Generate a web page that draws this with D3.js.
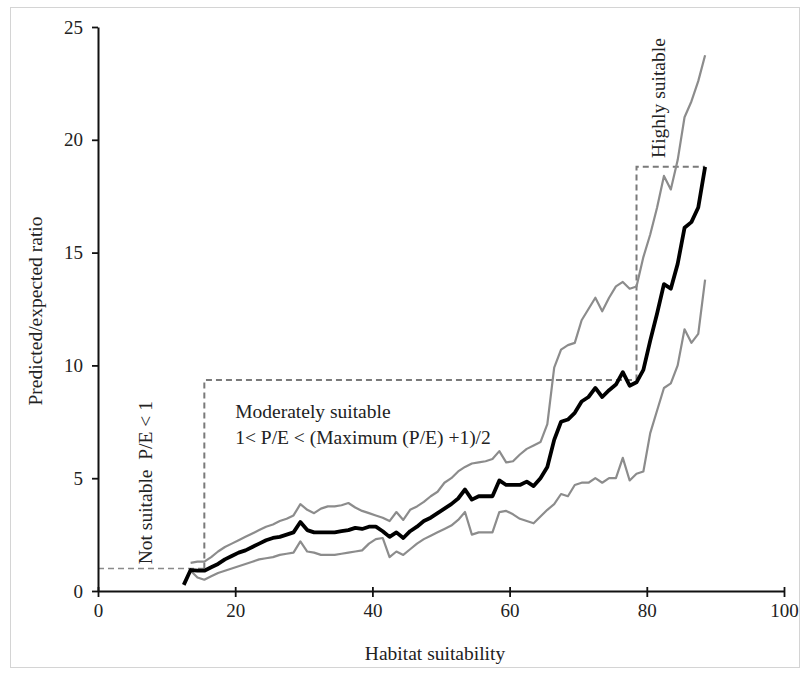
<!DOCTYPE html>
<html>
<head>
<meta charset="utf-8">
<script src="https://cdn.jsdelivr.net/npm/d3@7"></script>
<style>
  body { margin: 0; background: #fff; }
  svg text { font-family: "Liberation Serif", "DejaVu Serif", serif; fill: #222; }
</style>
</head>
<body>
<svg id="chart"></svg>
<script>
// habitat suitability classes (x) and P/E ratios
const habitat = d3.range(12.5, 89, 1);

const meanPE = [0.27, 0.93, 0.9, 0.9, 1.05, 1.2, 1.4, 1.55, 1.7, 1.8,
  1.95, 2.1, 2.25, 2.35, 2.4, 2.5, 2.6, 3.06, 2.7, 2.6,
  2.6, 2.6, 2.6, 2.65, 2.7, 2.8, 2.75, 2.85, 2.85, 2.65,
  2.4, 2.6, 2.35, 2.65, 2.85, 3.1, 3.25, 3.45, 3.65, 3.85,
  4.1, 4.5, 4.05, 4.2, 4.2, 4.2, 4.9, 4.7, 4.7, 4.7,
  4.85, 4.65, 5.0, 5.5, 6.7, 7.5, 7.6, 7.9, 8.4, 8.6,
  9.0, 8.6, 8.9, 9.15, 9.7, 9.1, 9.25, 9.8, 11.1, 12.3,
  13.6, 13.4, 14.5, 16.1, 16.35, 17.0, 18.8];

const upperPE = [null, 1.25, 1.3, 1.3, 1.5, 1.75, 1.95, 2.1, 2.25, 2.4,
  2.55, 2.7, 2.85, 2.95, 3.1, 3.2, 3.35, 3.85, 3.6, 3.45,
  3.65, 3.75, 3.75, 3.8, 3.9, 3.7, 3.55, 3.45, 3.35, 3.25,
  3.1, 3.5, 3.15, 3.6, 3.75, 3.95, 4.2, 4.4, 4.8, 5.0,
  5.3, 5.5, 5.65, 5.7, 5.75, 5.85, 6.2, 5.7, 5.75, 6.05,
  6.3, 6.45, 6.6, 7.4, 9.9, 10.7, 10.9, 11.0, 12.0, 12.5,
  13.0, 12.4, 13.0, 13.5, 13.7, 13.4, 13.5, 14.8, 15.8, 17.0,
  18.4, 17.8, 19.1, 21.0, 21.7, 22.6, 23.75];

const lowerPE = [null, 0.9, 0.6, 0.5, 0.65, 0.8, 0.9, 1.0, 1.1, 1.2,
  1.3, 1.4, 1.45, 1.5, 1.6, 1.65, 1.7, 2.2, 1.75, 1.7,
  1.6, 1.6, 1.6, 1.65, 1.7, 1.75, 1.8, 2.1, 2.3, 2.35,
  1.5, 1.75, 1.6, 1.85, 2.1, 2.3, 2.45, 2.6, 2.75, 2.9,
  3.15, 3.5, 2.5, 2.6, 2.6, 2.6, 3.5, 3.55, 3.4, 3.2,
  3.1, 3.0, 3.3, 3.6, 3.85, 4.3, 4.2, 4.7, 4.8, 4.8,
  5.0, 4.8, 5.0, 5.0, 5.9, 4.9, 5.2, 5.3, 7.0, 8.0,
  9.0, 9.2, 10.0, 11.6, 11.0, 11.4, 13.8];

// class limits drawn as dashed steps
const classBreaks = [0, 15.5, 78.5, 88.5];
const classLevels = [1, 9.35, 18.8];

const xTicks = [0, 20, 40, 60, 80, 100];
const yTicks = [0, 5, 10, 15, 20, 25];

class SuitabilityChart {

  constructor(_config) {
    this.config = {
      parentElement: _config.parentElement,
      containerWidth: _config.containerWidth || 806,
      containerHeight: _config.containerHeight || 675,
    }
    this.config.margin = _config.margin || { top: 27, bottom: 84, right: 22, left: 98 }
    this.initVis();
  }

  initVis() {
    let vis = this;
    vis.width = vis.config.containerWidth - vis.config.margin.left - vis.config.margin.right;
    vis.height = vis.config.containerHeight - vis.config.margin.top - vis.config.margin.bottom;

    vis.svg = d3.select(vis.config.parentElement)
        .attr('width', vis.config.containerWidth)
        .attr('height', vis.config.containerHeight);

    // light frame around the figure
    vis.svg.append('rect')
        .attr('x', 10.5).attr('y', 7.5)
        .attr('width', 789).attr('height', 660)
        .attr('fill', 'none')
        .attr('stroke', '#d4d4d4');

    vis.chart = vis.svg.append('g')
        .attr('transform', `translate(${vis.config.margin.left},${vis.config.margin.top})`);

    vis.xScale = d3.scaleLinear().domain([0, 100]).range([0, vis.width]);
    vis.yScale = d3.scaleLinear().domain([0, 25]).range([vis.height, 0]);
  }

  render() {
    let vis = this;
    let x = vis.xScale, y = vis.yScale;

    // dashed class limits
    let dash = vis.chart.append('g')
        .attr('fill', 'none')
        .attr('stroke', '#7a7a7a')
        .attr('stroke-dasharray', '6,4');

    dash.append('line')
        .attr('x1', x(classBreaks[0])).attr('x2', x(classBreaks[1]))
        .attr('y1', y(classLevels[0])).attr('y2', y(classLevels[0]))
        .attr('stroke-width', 1.5)
        .attr('stroke', '#8a8a8a');

    let stepPts = [
      [classBreaks[1], classLevels[0]], [classBreaks[1], classLevels[1]],
      [classBreaks[2], classLevels[1]], [classBreaks[2], classLevels[2]],
      [classBreaks[3], classLevels[2]]
    ];
    dash.append('path')
        .attr('d', d3.line().x(d => x(d[0])).y(d => y(d[1]))(stepPts))
        .attr('stroke-width', 2);

    // series
    let line = d3.line()
        .defined(d => d[1] != null)
        .x(d => x(d[0]))
        .y(d => y(d[1]));

    let series = [
      { values: upperPE, color: '#8c8c8c', w: 2.2 },
      { values: lowerPE, color: '#8c8c8c', w: 2.2 },
      { values: meanPE, color: '#000', w: 3.8 }
    ];

    vis.chart.selectAll('.series')
        .data(series)
        .join('path')
        .attr('class', 'series')
        .attr('fill', 'none')
        .attr('stroke', d => d.color)
        .attr('stroke-width', d => d.w)
        .attr('stroke-linejoin', 'round')
        .attr('d', d => line(habitat.map((h, i) => [h, d.values[i]])));

    // axes
    let xAxis = vis.chart.append('g')
        .attr('transform', `translate(0,${vis.height})`)
        .call(d3.axisBottom(x).tickValues(xTicks).tickSize(6).tickSizeOuter(0).tickPadding(7));
    xAxis.selectAll('.tick line').attr('y1', -4);

    let yAxis = vis.chart.append('g')
        .call(d3.axisLeft(y).tickValues(yTicks).tickSize(6).tickSizeOuter(0).tickPadding(9));

    [xAxis, yAxis].forEach(a => {
      a.select('.domain').attr('stroke', '#111').attr('stroke-width', 2);
      a.selectAll('.tick line').attr('stroke', '#111').attr('stroke-width', 1.8);
      a.selectAll('.tick text')
          .style('font-family', '"Liberation Serif", serif')
          .style('font-size', '19px')
          .attr('fill', '#333');
    });

    // axis titles
    vis.chart.append('text')
        .attr('x', x(50) - 6)
        .attr('y', vis.height + 69)
        .attr('text-anchor', 'middle')
        .style('font-size', '19.5px')
        .text('Habitat suitability');

    vis.chart.append('text')
        .attr('transform', `translate(${-56},${y(12.5) + 2}) rotate(-90)`)
        .attr('text-anchor', 'middle')
        .style('font-size', '19.5px')
        .text('Predicted/expected ratio');

    // class annotations
    vis.chart.append('text')
        .attr('transform', `translate(${x(7.9)},${y(4.8)}) rotate(-90)`)
        .attr('text-anchor', 'middle')
        .style('font-size', '19.5px')
        .attr('xml:space', 'preserve')
        .text('Not suitable  P/E < 1');

    vis.chart.append('text')
        .attr('x', x(20)).attr('y', y(7.65))
        .style('font-size', '19.5px')
        .text('Moderately suitable');

    vis.chart.append('text')
        .attr('x', x(20)).attr('y', y(6.5))
        .style('font-size', '19.5px')
        .text('1< P/E < (Maximum (P/E) +1)/2');

    vis.chart.append('text')
        .attr('transform', `translate(${x(82.6)},${y(21.85)}) rotate(-90)`)
        .attr('text-anchor', 'middle')
        .style('font-size', '19.5px')
        .text('Highly suitable');
  }
}

let chart = new SuitabilityChart({ parentElement: '#chart' });
chart.render();
</script>
</body>
</html>
